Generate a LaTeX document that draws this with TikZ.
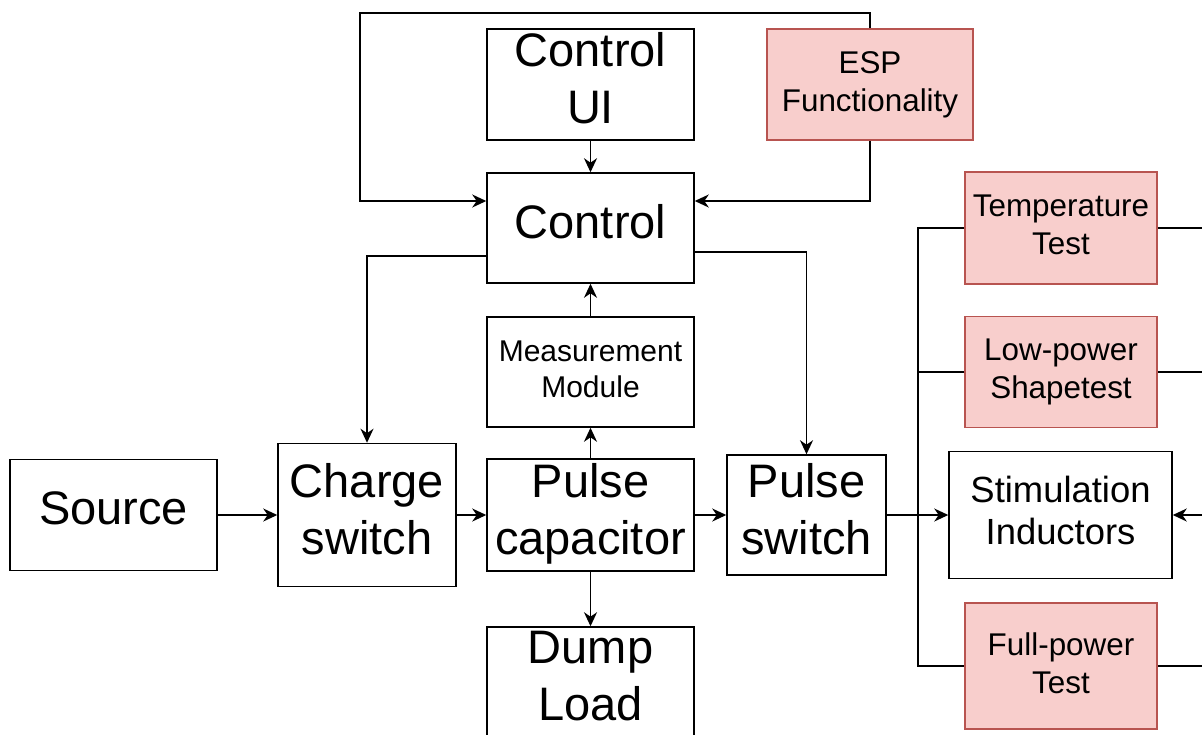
\documentclass[tikz,border=0pt]{standalone}
\usepackage{fontspec}
\setmainfont{Liberation Sans}
\usetikzlibrary{arrows.meta,calc}
\definecolor{pinkfill}{HTML}{F8CECC}
\definecolor{pinkline}{HTML}{B85450}
\newcommand{\bigtxt}{\fontsize{23.5}{28.5}\selectfont}
\newcommand{\midtxt}{\fontsize{18.2}{21}\selectfont}
\newcommand{\smalltxt}{\fontsize{15.7}{19}\selectfont}
\newcommand{\meastxt}{\fontsize{15}{18}\selectfont}
\begin{document}
\begin{tikzpicture}[x=0.5pt,y=-0.5pt,
  box/.style={draw, line width=0.75pt, inner sep=0pt, align=center, font=\bigtxt, text depth=6.5pt},
  pinkbox/.style={box, fill=pinkfill, draw=pinkline, font=\smalltxt, text depth=3.3pt},
  arr/.style={line width=0.75pt, -{Stealth[length=7pt,width=6.5pt,inset=2.2pt]}},
  ln/.style={line width=0.75pt}]
\useasboundingbox (0,0) rectangle (1202,734);
\clip (0,0) rectangle (1202,734);
% main row
\node[box, minimum width=103.5pt, minimum height=55.5pt] (src) at (113.5,515) {Source};
\node[box, minimum width=89pt, minimum height=71.5pt] (chg) at (367,515) {Charge\\switch};
\node[box, minimum width=103.5pt, minimum height=56pt] (cap) at (590.5,515) {Pulse\\capacitor};
\node[box, minimum width=79.5pt, minimum height=60pt] (psw) at (806.5,515) {Pulse\\switch};
\node[box, font=\meastxt, text depth=3.3pt, minimum width=103.5pt, minimum height=55pt] (meas) at (590.5,372) {Measurement\\Module};
\node[box, minimum width=103.5pt, minimum height=55pt] (ctrl) at (590.5,228) {Control};
\node[box, minimum width=103.5pt, minimum height=55.5pt] (ui) at (590.5,84.5) {Control\\UI};
\node[pinkbox, minimum width=103pt, minimum height=55.5pt] (esp) at (870,84.5) {ESP\\Functionality};
\node[box, minimum width=103.5pt, minimum height=55.5pt] (dump) at (590.5,682.5) {Dump\\Load};
% right column
\node[pinkbox, minimum width=96pt, minimum height=56pt] (temp) at (1061,228) {Temperature\\Test};
\node[pinkbox, minimum width=96pt, minimum height=55.5pt] (low) at (1061,372) {Low-power\\Shapetest};
\node[box, font=\midtxt, text depth=4.5pt, minimum width=111.5pt, minimum height=63.5pt] (stim) at (1060.5,515) {Stimulation\\Inductors};
\node[pinkbox, minimum width=96pt, minimum height=63pt] (full) at (1061,666) {Full-power\\Test};
% helper coordinates
\coordinate (tl) at (360,13);
\coordinate (tr) at (870,13);
\coordinate (busT) at (918,228);
\coordinate (busB) at (918,666);
\coordinate (rT) at (1215,228);
\coordinate (rB) at (1215,666);
% main row connectors
\draw[arr] (src) -- (chg);
\draw[arr] (chg) -- (cap);
\draw[arr] (cap) -- (psw);
\draw[arr] (psw) -- (stim);
\draw[arr] (cap) -- (meas);
\draw[arr] (meas) -- (ctrl);
\draw[arr] (cap) -- (dump);
\draw[arr] (ui) -- (ctrl);
% control loops
\draw[arr] (esp.north) -- (tr) -- (tl) |- ($(ctrl.west)+(0,-27)$);
\draw[arr] (esp.south) |- ($(ctrl.east)+(0,-27)$);
\draw[arr] ($(ctrl.west)+(0,28)$) -| (chg.north);
\draw[arr] ($(ctrl.east)+(0,24)$) -| (psw.north);
% left bus of tests
\draw[ln] (temp.west) -- (busT) -- (busB) -- (full.west);
\draw[ln] (low.west) -- (low.west -| busT);
% right bus (beyond the edge)
\draw[ln] (temp.east) -- (rT) -- (rB) -- (full.east);
\draw[ln] (low.east) -- (low.east -| rT);
\draw[arr] (stim.east -| rT) -- (stim.east);
\end{tikzpicture}
\end{document}
